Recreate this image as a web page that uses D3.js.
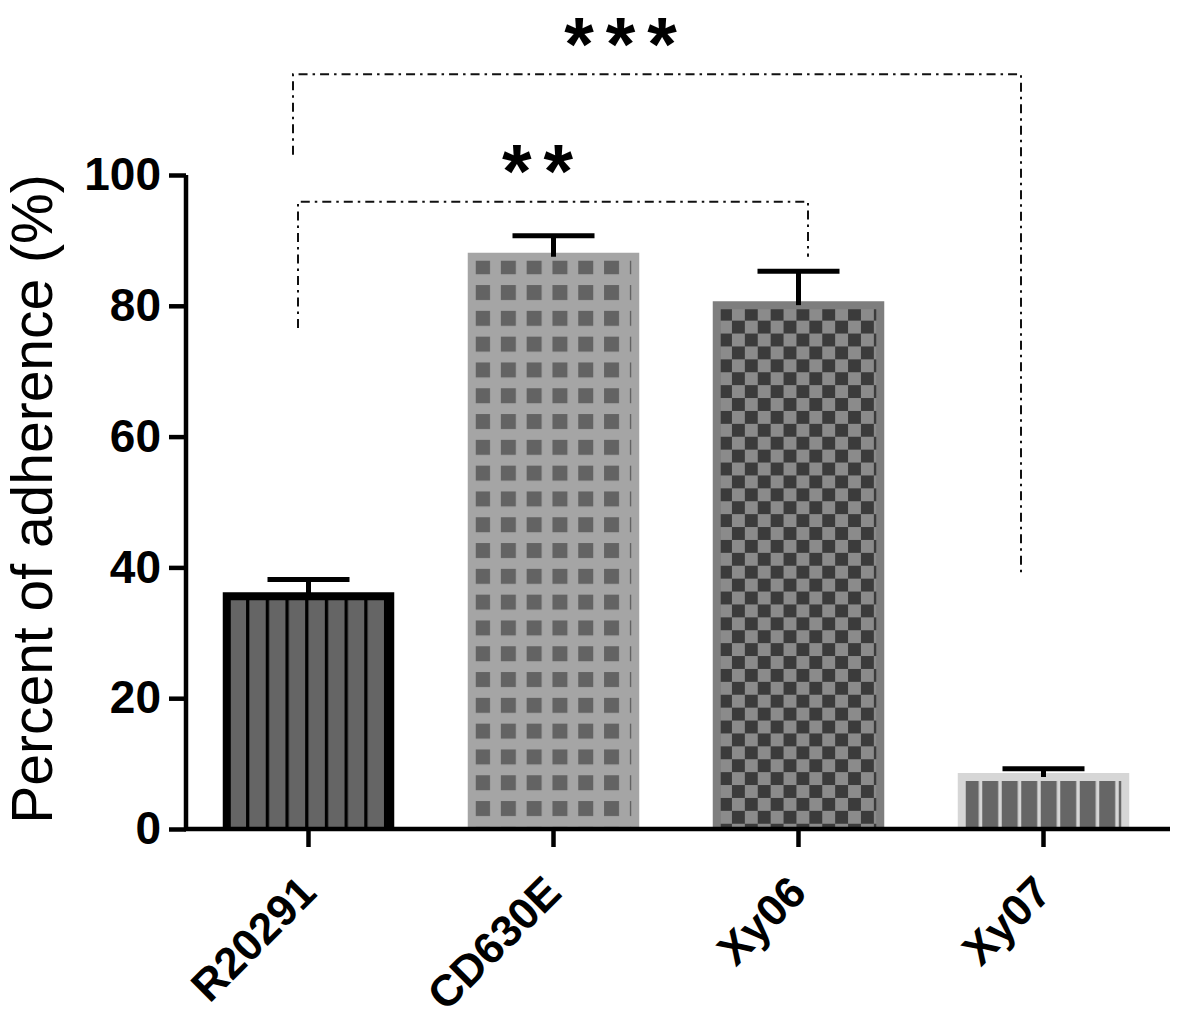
<!DOCTYPE html>
<html>
<head>
<meta charset="utf-8">
<script src="https://cdn.jsdelivr.net/npm/d3@7"></script>
<style>
  body { margin: 0; background: #fff; }
  svg { display: block; font-family: "Liberation Sans", Arial, sans-serif; }
</style>
</head>
<body>
<div class="chart"></div>
<script>
// values
const categories = ["R20291", "CD630E", "Xy06", "Xy07"];
const means = [35.6, 87.5, 80.1, 7.95];
const errors = [2.55, 3.2, 5.2, 1.25];
const yTicks = [0, 20, 40, 60, 80, 100];
const yLabel = "Percent of adherence (%)";

// significance brackets
const sigLabels = ["***", "**"];
const sigFrom = ["R20291", "R20291"];
const sigTo = ["Xy07", "Xy06"];
const sigTop = [115.4, 95.9];
const sigLeftEnd = [103.1, 76.6];
const sigRightEnd = [38.8, 87.5];

const width = 1181, height = 1023;

const svg = d3.select(".chart").append("svg")
    .attr("width", width)
    .attr("height", height);

const x = d3.scaleBand()
    .domain(categories)
    .range([186, 1166])
    .paddingInner(0.3)
    .paddingOuter(0.15);

const y = d3.scaleLinear()
    .domain([0, 100])
    .range([829, 175]);

// fill styles per bar (GraphPad-like hatch patterns)
const barStyles = [
    { border: "#000", kind: "stripes", bg: "#656565", fg: "#000", period: 19.7, band: 3.3, dx: 3.6 },
    { border: "#a5a5a5", kind: "grid", bg: "#a5a5a5", fg: "#636363", period: 25.8, band: 15, dx: 7.3, dy: 2.5 },
    { border: "#7e7e7e", kind: "checker", bg: "#8b8b8b", fg: "#3b3b3b", period: 25.8, band: 12.9, dx: 6.3, dy: 2.6 },
    { border: "#d6d6d6", kind: "stripes", bg: "#d6d6d6", fg: "#666", period: 19.5, band: 16, dx: 5 }
];
const borderW = 8;

const defs = svg.append("defs");

categories.forEach((c, i) => {
    const s = barStyles[i];
    const x0 = x(c);
    const top = y(means[i]);
    const p = defs.append("pattern")
        .attr("id", `pat-${i}`)
        .attr("patternUnits", "userSpaceOnUse")
        .attr("x", x0 + s.dx)
        .attr("y", s.kind === "stripes" ? 0 : top + s.dy)
        .attr("width", s.period)
        .attr("height", s.kind === "stripes" ? 10 : s.period);
    p.append("rect")
        .attr("width", s.period)
        .attr("height", s.kind === "stripes" ? 10 : s.period)
        .attr("fill", s.bg);
    if (s.kind === "stripes") {
        p.append("rect").attr("width", s.band).attr("height", 10).attr("fill", s.fg);
    } else if (s.kind === "grid") {
        p.append("rect").attr("width", s.band).attr("height", s.band).attr("fill", s.fg);
    } else {
        p.append("rect").attr("width", s.band).attr("height", s.band).attr("fill", s.fg);
        p.append("rect").attr("x", s.band).attr("y", s.band)
            .attr("width", s.band).attr("height", s.band).attr("fill", s.fg);
    }
});

// bars
const bars = svg.append("g").attr("class", "bars");
const bw = x.bandwidth();

bars.selectAll("rect")
    .data(categories)
    .join("rect")
    .attr("x", d => x(d) + borderW / 2)
    .attr("y", (d, i) => y(means[i]))
    .attr("width", bw - borderW)
    .attr("height", (d, i) => y(0) - y(means[i]))
    .attr("fill", (d, i) => `url(#pat-${i})`);

bars.selectAll("path")
    .data(categories)
    .join("path")
    .attr("d", (d, i) => {
        const l = x(d) + borderW / 2, r = x(d) + bw - borderW / 2, t = y(means[i]);
        return `M${l},${y(0)}V${t}H${r}V${y(0)}`;
    })
    .attr("fill", "none")
    .attr("stroke", (d, i) => barStyles[i].border)
    .attr("stroke-width", borderW);

// error bars (upper half only, like the original)
const capHalf = 41;
const err = svg.append("g").attr("class", "errors")
    .attr("stroke", "#000")
    .attr("stroke-width", 5);

err.selectAll("line.stem")
    .data(categories)
    .join("line")
    .attr("class", "stem")
    .attr("x1", d => x(d) + bw / 2)
    .attr("x2", d => x(d) + bw / 2)
    .attr("y1", (d, i) => y(means[i]))
    .attr("y2", (d, i) => y(means[i] + errors[i]));

err.selectAll("line.cap")
    .data(categories)
    .join("line")
    .attr("class", "cap")
    .attr("x1", d => x(d) + bw / 2 - capHalf)
    .attr("x2", d => x(d) + bw / 2 + capHalf)
    .attr("y1", (d, i) => y(means[i] + errors[i]))
    .attr("y2", (d, i) => y(means[i] + errors[i]));

// axes
const yAxis = svg.append("g")
    .attr("transform", `translate(186,0)`)
    .call(d3.axisLeft(y).tickValues(yTicks).tickSize(17).tickSizeOuter(0).tickPadding(8));

const xAxis = svg.append("g")
    .attr("transform", `translate(0,${y(0)})`)
    .call(d3.axisBottom(x).tickSize(18).tickSizeOuter(0));

[yAxis, xAxis].forEach(g => {
    g.selectAll(".domain, .tick line")
        .attr("stroke", "#000")
        .attr("stroke-width", 4.5);
    g.selectAll("text")
        .attr("fill", "#000")
        .attr("font-weight", "bold")
        .attr("font-family", "Liberation Sans, Arial, sans-serif");
});

yAxis.select(".domain").attr("d", `M0,${y(0) + 2}V${y(100)}`);
yAxis.selectAll("text").attr("font-size", 46);

xAxis.select(".domain").attr("d", `M${186 - 2},0H1170`);
xAxis.selectAll("text")
    .attr("font-size", 44)
    .attr("text-anchor", "end")
    .attr("x", 0)
    .attr("y", 0)
    .attr("dy", 0)
    .attr("transform", "translate(10,66) rotate(-45)");

// y axis title
svg.append("text")
    .attr("transform", `translate(52,${(y(0) + y(100)) / 2 - 3}) rotate(-90)`)
    .attr("text-anchor", "middle")
    .attr("font-size", 57)
    .attr("fill", "#000")
    .text(yLabel);

// significance brackets
const bracketNudge = [
    { l: -15.5, r: -22.5, text: -36.5, base: 69.5 },
    { l: -10.5, r: 9.5, text: -15.5, base: 197 }
];

const sig = svg.append("g").attr("class", "sig");

sigLabels.forEach((lab, i) => {
    const n = bracketNudge[i];
    const xl = x(sigFrom[i]) + bw / 2 + n.l;
    const xr = x(sigTo[i]) + bw / 2 + n.r;
    const yt = y(sigTop[i]);
    sig.append("path")
        .attr("d", `M${xl},${y(sigLeftEnd[i])}V${yt}H${xr}V${y(sigRightEnd[i])}`)
        .attr("fill", "none")
        .attr("stroke", "#111")
        .attr("stroke-width", 2)
        .attr("stroke-dasharray", "9,5,2.5,5");
    sig.append("text")
        .attr("x", (xl + xr) / 2 + n.text + 6)
        .attr("y", n.base)
        .attr("text-anchor", "middle")
        .attr("font-size", 76)
        .attr("font-weight", "bold")
        .attr("letter-spacing", 12)
        .attr("fill", "#000")
        .text(lab);
});
</script>
</body>
</html>
